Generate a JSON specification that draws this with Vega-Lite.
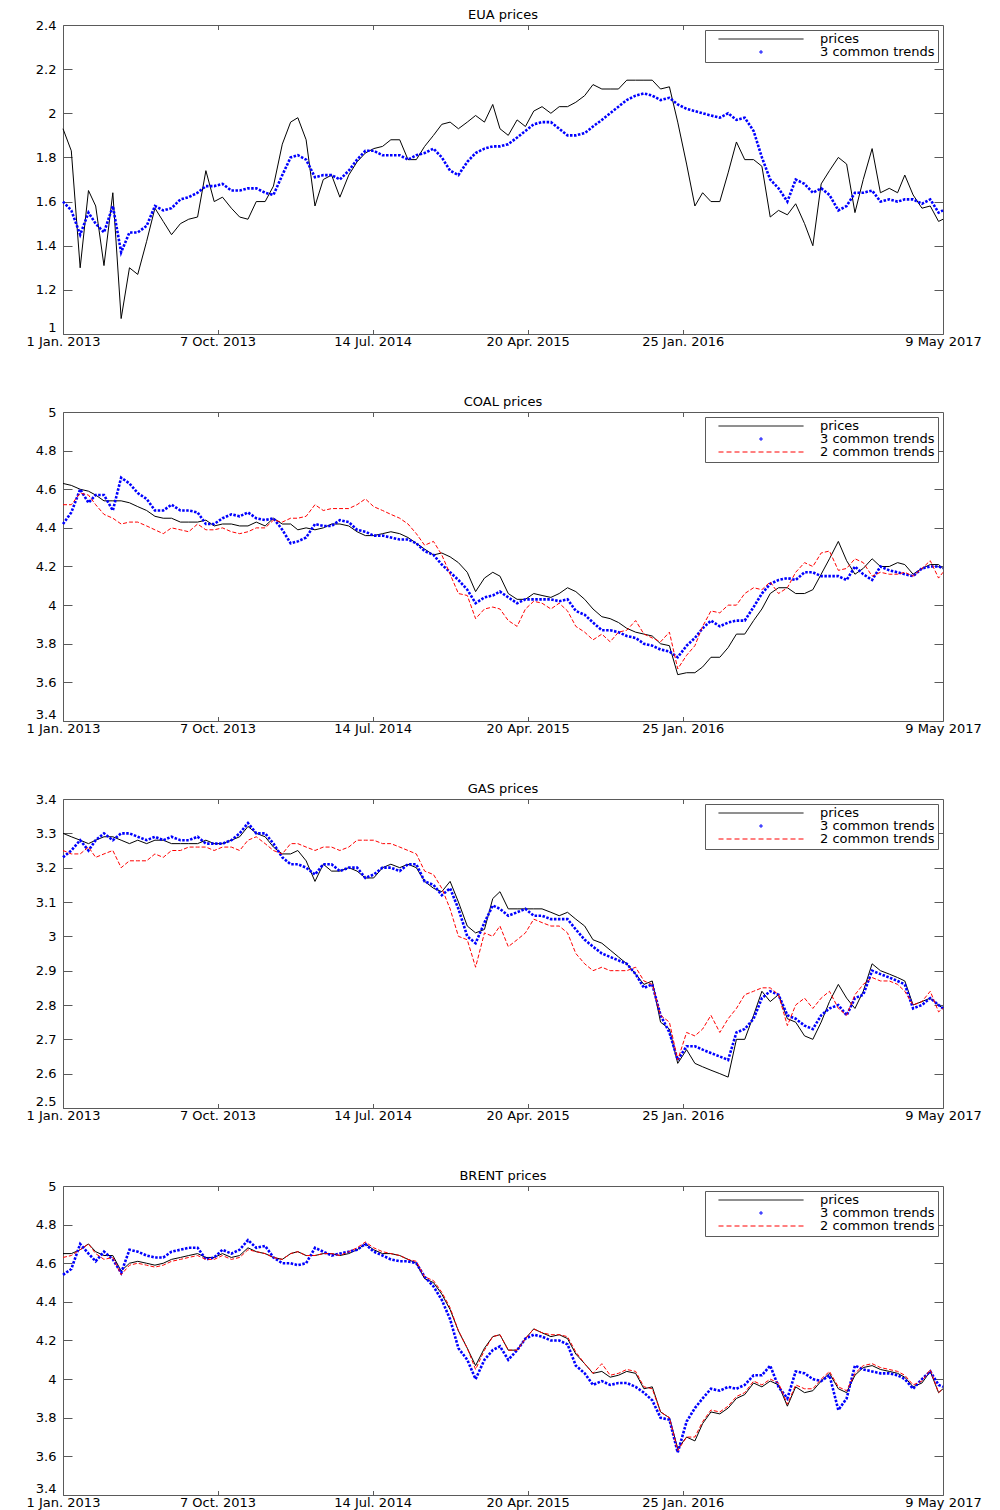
{
"$schema": "https://vega.github.io/schema/vega-lite/v6.json",
"background": "white",
"padding": {"left": 25, "top": 8, "right": 5, "bottom": 2},
"datasets": {"all": [
{"d":"2013-01-01","ep":1.93,"et":1.60,"cp":4.63,"ct":4.42,"cr":4.52,"gp":3.30,"gt":3.23,"gr":3.25,"bp":4.65,"bt":4.54,"br":4.63},
{"d":"2013-01-16","ep":1.83,"et":1.56,"cp":4.62,"ct":4.48,"cr":4.52,"gp":3.29,"gt":3.25,"gr":3.24,"bp":4.65,"bt":4.57,"br":4.64},
{"d":"2013-02-01","ep":1.30,"et":1.45,"cp":4.60,"ct":4.60,"cr":4.58,"gp":3.28,"gt":3.28,"gr":3.24,"bp":4.67,"bt":4.70,"br":4.67},
{"d":"2013-02-16","ep":1.65,"et":1.55,"cp":4.59,"ct":4.53,"cr":4.57,"gp":3.27,"gt":3.25,"gr":3.26,"bp":4.70,"bt":4.65,"br":4.70},
{"d":"2013-03-01","ep":1.58,"et":1.50,"cp":4.57,"ct":4.57,"cr":4.52,"gp":3.28,"gt":3.28,"gr":3.23,"bp":4.66,"bt":4.61,"br":4.65},
{"d":"2013-03-16","ep":1.31,"et":1.46,"cp":4.54,"ct":4.57,"cr":4.47,"gp":3.29,"gt":3.30,"gr":3.24,"bp":4.64,"bt":4.66,"br":4.62},
{"d":"2013-04-01","ep":1.64,"et":1.58,"cp":4.54,"ct":4.49,"cr":4.45,"gp":3.29,"gt":3.28,"gr":3.25,"bp":4.64,"bt":4.62,"br":4.63},
{"d":"2013-04-16","ep":1.07,"et":1.37,"cp":4.54,"ct":4.66,"cr":4.42,"gp":3.28,"gt":3.30,"gr":3.20,"bp":4.56,"bt":4.55,"br":4.54},
{"d":"2013-05-01","ep":1.30,"et":1.46,"cp":4.53,"ct":4.63,"cr":4.43,"gp":3.27,"gt":3.30,"gr":3.22,"bp":4.60,"bt":4.67,"br":4.59},
{"d":"2013-05-16","ep":1.27,"et":1.46,"cp":4.51,"ct":4.58,"cr":4.43,"gp":3.28,"gt":3.29,"gr":3.22,"bp":4.61,"bt":4.66,"br":4.60},
{"d":"2013-06-01","ep":1.42,"et":1.49,"cp":4.49,"ct":4.55,"cr":4.41,"gp":3.27,"gt":3.28,"gr":3.22,"bp":4.60,"bt":4.64,"br":4.59},
{"d":"2013-06-16","ep":1.57,"et":1.58,"cp":4.46,"ct":4.49,"cr":4.39,"gp":3.28,"gt":3.29,"gr":3.24,"bp":4.59,"bt":4.63,"br":4.58},
{"d":"2013-07-01","ep":1.51,"et":1.56,"cp":4.45,"ct":4.49,"cr":4.37,"gp":3.28,"gt":3.28,"gr":3.23,"bp":4.60,"bt":4.63,"br":4.59},
{"d":"2013-07-16","ep":1.45,"et":1.57,"cp":4.45,"ct":4.52,"cr":4.40,"gp":3.27,"gt":3.29,"gr":3.25,"bp":4.62,"bt":4.66,"br":4.61},
{"d":"2013-08-01","ep":1.50,"et":1.61,"cp":4.43,"ct":4.49,"cr":4.39,"gp":3.27,"gt":3.28,"gr":3.25,"bp":4.63,"bt":4.67,"br":4.62},
{"d":"2013-08-16","ep":1.52,"et":1.62,"cp":4.43,"ct":4.49,"cr":4.38,"gp":3.27,"gt":3.28,"gr":3.26,"bp":4.64,"bt":4.68,"br":4.63},
{"d":"2013-09-01","ep":1.53,"et":1.64,"cp":4.43,"ct":4.48,"cr":4.42,"gp":3.27,"gt":3.29,"gr":3.26,"bp":4.65,"bt":4.68,"br":4.64},
{"d":"2013-09-16","ep":1.74,"et":1.67,"cp":4.44,"ct":4.42,"cr":4.39,"gp":3.28,"gt":3.27,"gr":3.26,"bp":4.63,"bt":4.62,"br":4.62},
{"d":"2013-10-01","ep":1.60,"et":1.67,"cp":4.41,"ct":4.42,"cr":4.39,"gp":3.27,"gt":3.27,"gr":3.25,"bp":4.63,"bt":4.63,"br":4.62},
{"d":"2013-10-16","ep":1.62,"et":1.68,"cp":4.42,"ct":4.45,"cr":4.40,"gp":3.27,"gt":3.27,"gr":3.26,"bp":4.65,"bt":4.67,"br":4.64},
{"d":"2013-11-01","ep":1.57,"et":1.65,"cp":4.42,"ct":4.47,"cr":4.38,"gp":3.28,"gt":3.28,"gr":3.26,"bp":4.63,"bt":4.65,"br":4.62},
{"d":"2013-11-16","ep":1.53,"et":1.65,"cp":4.41,"ct":4.46,"cr":4.37,"gp":3.29,"gt":3.30,"gr":3.25,"bp":4.64,"bt":4.67,"br":4.63},
{"d":"2013-12-01","ep":1.52,"et":1.66,"cp":4.41,"ct":4.48,"cr":4.38,"gp":3.32,"gt":3.33,"gr":3.28,"bp":4.68,"bt":4.72,"br":4.67},
{"d":"2013-12-16","ep":1.60,"et":1.66,"cp":4.43,"ct":4.45,"cr":4.40,"gp":3.30,"gt":3.30,"gr":3.29,"bp":4.66,"bt":4.68,"br":4.66},
{"d":"2014-01-01","ep":1.60,"et":1.64,"cp":4.41,"ct":4.44,"cr":4.40,"gp":3.29,"gt":3.30,"gr":3.27,"bp":4.65,"bt":4.69,"br":4.65},
{"d":"2014-01-16","ep":1.67,"et":1.63,"cp":4.45,"ct":4.45,"cr":4.44,"gp":3.26,"gt":3.27,"gr":3.25,"bp":4.63,"bt":4.63,"br":4.63},
{"d":"2014-02-01","ep":1.86,"et":1.72,"cp":4.42,"ct":4.39,"cr":4.43,"gp":3.24,"gt":3.23,"gr":3.24,"bp":4.62,"bt":4.60,"br":4.62},
{"d":"2014-02-16","ep":1.96,"et":1.80,"cp":4.42,"ct":4.32,"cr":4.45,"gp":3.24,"gt":3.21,"gr":3.27,"bp":4.65,"bt":4.60,"br":4.65},
{"d":"2014-03-01","ep":1.98,"et":1.81,"cp":4.39,"ct":4.33,"cr":4.45,"gp":3.25,"gt":3.21,"gr":3.27,"bp":4.66,"bt":4.59,"br":4.66},
{"d":"2014-03-16","ep":1.88,"et":1.79,"cp":4.40,"ct":4.35,"cr":4.46,"gp":3.22,"gt":3.20,"gr":3.26,"bp":4.64,"bt":4.60,"br":4.64},
{"d":"2014-04-01","ep":1.58,"et":1.71,"cp":4.39,"ct":4.42,"cr":4.52,"gp":3.16,"gt":3.18,"gr":3.25,"bp":4.64,"bt":4.68,"br":4.64},
{"d":"2014-04-16","ep":1.70,"et":1.72,"cp":4.40,"ct":4.41,"cr":4.49,"gp":3.21,"gt":3.21,"gr":3.26,"bp":4.65,"bt":4.66,"br":4.65},
{"d":"2014-05-01","ep":1.72,"et":1.72,"cp":4.42,"ct":4.41,"cr":4.50,"gp":3.19,"gt":3.21,"gr":3.26,"bp":4.65,"bt":4.64,"br":4.65},
{"d":"2014-05-16","ep":1.62,"et":1.70,"cp":4.42,"ct":4.44,"cr":4.50,"gp":3.19,"gt":3.19,"gr":3.25,"bp":4.64,"bt":4.65,"br":4.64},
{"d":"2014-06-01","ep":1.72,"et":1.74,"cp":4.41,"ct":4.43,"cr":4.50,"gp":3.20,"gt":3.20,"gr":3.26,"bp":4.65,"bt":4.66,"br":4.66},
{"d":"2014-06-16","ep":1.78,"et":1.79,"cp":4.38,"ct":4.39,"cr":4.52,"gp":3.19,"gt":3.20,"gr":3.28,"bp":4.67,"bt":4.67,"br":4.68},
{"d":"2014-07-01","ep":1.82,"et":1.83,"cp":4.36,"ct":4.38,"cr":4.55,"gp":3.17,"gt":3.17,"gr":3.28,"bp":4.70,"bt":4.70,"br":4.71},
{"d":"2014-07-16","ep":1.84,"et":1.83,"cp":4.36,"ct":4.36,"cr":4.51,"gp":3.17,"gt":3.18,"gr":3.28,"bp":4.67,"bt":4.66,"br":4.68},
{"d":"2014-08-01","ep":1.85,"et":1.81,"cp":4.37,"ct":4.36,"cr":4.49,"gp":3.20,"gt":3.20,"gr":3.27,"bp":4.65,"bt":4.64,"br":4.66},
{"d":"2014-08-16","ep":1.88,"et":1.81,"cp":4.38,"ct":4.35,"cr":4.47,"gp":3.21,"gt":3.20,"gr":3.27,"bp":4.65,"bt":4.62,"br":4.65},
{"d":"2014-09-01","ep":1.88,"et":1.81,"cp":4.37,"ct":4.34,"cr":4.45,"gp":3.20,"gt":3.19,"gr":3.26,"bp":4.64,"bt":4.61,"br":4.64},
{"d":"2014-09-16","ep":1.79,"et":1.79,"cp":4.35,"ct":4.34,"cr":4.42,"gp":3.21,"gt":3.21,"gr":3.25,"bp":4.62,"bt":4.61,"br":4.62},
{"d":"2014-10-01","ep":1.79,"et":1.81,"cp":4.32,"ct":4.32,"cr":4.37,"gp":3.20,"gt":3.21,"gr":3.24,"bp":4.60,"bt":4.60,"br":4.61},
{"d":"2014-10-16","ep":1.85,"et":1.82,"cp":4.29,"ct":4.28,"cr":4.31,"gp":3.16,"gt":3.16,"gr":3.19,"bp":4.52,"bt":4.53,"br":4.53},
{"d":"2014-11-01","ep":1.90,"et":1.84,"cp":4.26,"ct":4.26,"cr":4.33,"gp":3.14,"gt":3.15,"gr":3.18,"bp":4.50,"bt":4.48,"br":4.51},
{"d":"2014-11-16","ep":1.95,"et":1.80,"cp":4.27,"ct":4.21,"cr":4.26,"gp":3.13,"gt":3.12,"gr":3.14,"bp":4.44,"bt":4.41,"br":4.45},
{"d":"2014-12-01","ep":1.96,"et":1.74,"cp":4.25,"ct":4.17,"cr":4.16,"gp":3.16,"gt":3.14,"gr":3.08,"bp":4.36,"bt":4.31,"br":4.37},
{"d":"2014-12-16","ep":1.93,"et":1.72,"cp":4.22,"ct":4.13,"cr":4.06,"gp":3.10,"gt":3.08,"gr":3.00,"bp":4.25,"bt":4.16,"br":4.25},
{"d":"2015-01-01","ep":1.96,"et":1.78,"cp":4.17,"ct":4.08,"cr":4.05,"gp":3.03,"gt":3.00,"gr":2.99,"bp":4.16,"bt":4.10,"br":4.16},
{"d":"2015-01-16","ep":1.99,"et":1.82,"cp":4.07,"ct":4.01,"cr":3.93,"gp":3.01,"gt":2.98,"gr":2.91,"bp":4.07,"bt":4.00,"br":4.05},
{"d":"2015-02-01","ep":1.96,"et":1.84,"cp":4.14,"ct":4.04,"cr":3.98,"gp":3.02,"gt":3.04,"gr":3.01,"bp":4.16,"bt":4.10,"br":4.15},
{"d":"2015-02-16","ep":2.04,"et":1.85,"cp":4.17,"ct":4.05,"cr":3.99,"gp":3.11,"gt":3.09,"gr":3.00,"bp":4.22,"bt":4.15,"br":4.22},
{"d":"2015-03-01","ep":1.93,"et":1.85,"cp":4.15,"ct":4.07,"cr":3.98,"gp":3.13,"gt":3.08,"gr":3.03,"bp":4.23,"bt":4.17,"br":4.23},
{"d":"2015-03-16","ep":1.90,"et":1.86,"cp":4.06,"ct":4.04,"cr":3.92,"gp":3.08,"gt":3.06,"gr":2.97,"bp":4.15,"bt":4.10,"br":4.15},
{"d":"2015-04-01","ep":1.97,"et":1.89,"cp":4.03,"ct":4.01,"cr":3.89,"gp":3.08,"gt":3.07,"gr":2.99,"bp":4.15,"bt":4.15,"br":4.15},
{"d":"2015-04-16","ep":1.94,"et":1.92,"cp":4.03,"ct":4.03,"cr":3.98,"gp":3.08,"gt":3.08,"gr":3.01,"bp":4.21,"bt":4.21,"br":4.21},
{"d":"2015-05-01","ep":2.01,"et":1.95,"cp":4.06,"ct":4.03,"cr":4.02,"gp":3.08,"gt":3.06,"gr":3.05,"bp":4.26,"bt":4.23,"br":4.26},
{"d":"2015-05-16","ep":2.03,"et":1.96,"cp":4.05,"ct":4.03,"cr":4.01,"gp":3.08,"gt":3.06,"gr":3.04,"bp":4.24,"bt":4.22,"br":4.24},
{"d":"2015-06-01","ep":2.00,"et":1.96,"cp":4.04,"ct":4.03,"cr":3.98,"gp":3.07,"gt":3.05,"gr":3.03,"bp":4.22,"bt":4.20,"br":4.23},
{"d":"2015-06-16","ep":2.03,"et":1.93,"cp":4.06,"ct":4.02,"cr":4.01,"gp":3.06,"gt":3.05,"gr":3.03,"bp":4.23,"bt":4.20,"br":4.23},
{"d":"2015-07-01","ep":2.03,"et":1.90,"cp":4.09,"ct":4.03,"cr":3.97,"gp":3.07,"gt":3.05,"gr":3.01,"bp":4.21,"bt":4.18,"br":4.22},
{"d":"2015-07-16","ep":2.05,"et":1.90,"cp":4.07,"ct":3.97,"cr":3.89,"gp":3.05,"gt":3.02,"gr":2.95,"bp":4.13,"bt":4.07,"br":4.14},
{"d":"2015-08-01","ep":2.08,"et":1.91,"cp":4.03,"ct":3.95,"cr":3.86,"gp":3.03,"gt":2.99,"gr":2.92,"bp":4.08,"bt":4.03,"br":4.08},
{"d":"2015-08-16","ep":2.13,"et":1.94,"cp":3.98,"ct":3.91,"cr":3.82,"gp":2.99,"gt":2.97,"gr":2.90,"bp":4.03,"bt":3.97,"br":4.03},
{"d":"2015-09-01","ep":2.11,"et":1.97,"cp":3.94,"ct":3.87,"cr":3.85,"gp":2.98,"gt":2.95,"gr":2.91,"bp":4.04,"bt":3.99,"br":4.08},
{"d":"2015-09-16","ep":2.11,"et":2.00,"cp":3.93,"ct":3.87,"cr":3.81,"gp":2.96,"gt":2.94,"gr":2.90,"bp":4.01,"bt":3.97,"br":4.02},
{"d":"2015-10-01","ep":2.11,"et":2.03,"cp":3.91,"ct":3.86,"cr":3.86,"gp":2.94,"gt":2.93,"gr":2.90,"bp":4.02,"bt":3.98,"br":4.03},
{"d":"2015-10-16","ep":2.15,"et":2.06,"cp":3.88,"ct":3.84,"cr":3.87,"gp":2.92,"gt":2.92,"gr":2.90,"bp":4.04,"bt":3.98,"br":4.05},
{"d":"2015-11-01","ep":2.15,"et":2.08,"cp":3.86,"ct":3.83,"cr":3.92,"gp":2.89,"gt":2.89,"gr":2.91,"bp":4.03,"bt":3.96,"br":4.04},
{"d":"2015-11-16","ep":2.15,"et":2.09,"cp":3.85,"ct":3.80,"cr":3.85,"gp":2.86,"gt":2.85,"gr":2.87,"bp":3.95,"bt":3.93,"br":3.96},
{"d":"2015-12-01","ep":2.15,"et":2.08,"cp":3.84,"ct":3.79,"cr":3.83,"gp":2.87,"gt":2.86,"gr":2.86,"bp":3.96,"bt":3.89,"br":3.95},
{"d":"2015-12-16","ep":2.11,"et":2.06,"cp":3.80,"ct":3.77,"cr":3.81,"gp":2.75,"gt":2.77,"gr":2.77,"bp":3.83,"bt":3.80,"br":3.83},
{"d":"2016-01-01","ep":2.12,"et":2.07,"cp":3.79,"ct":3.76,"cr":3.86,"gp":2.73,"gt":2.72,"gr":2.75,"bp":3.80,"bt":3.79,"br":3.80},
{"d":"2016-01-16","ep":1.96,"et":2.04,"cp":3.64,"ct":3.73,"cr":3.67,"gp":2.63,"gt":2.64,"gr":2.64,"bp":3.64,"bt":3.62,"br":3.63},
{"d":"2016-02-01","ep":1.77,"et":2.02,"cp":3.65,"ct":3.79,"cr":3.74,"gp":2.67,"gt":2.68,"gr":2.72,"bp":3.70,"bt":3.78,"br":3.70},
{"d":"2016-02-16","ep":1.58,"et":2.01,"cp":3.65,"ct":3.83,"cr":3.79,"gp":2.63,"gt":2.68,"gr":2.71,"bp":3.68,"bt":3.85,"br":3.70},
{"d":"2016-03-01","ep":1.64,"et":2.00,"cp":3.68,"ct":3.88,"cr":3.89,"gp":2.62,"gt":2.67,"gr":2.73,"bp":3.77,"bt":3.90,"br":3.78},
{"d":"2016-03-16","ep":1.60,"et":1.99,"cp":3.73,"ct":3.92,"cr":3.97,"gp":2.61,"gt":2.66,"gr":2.77,"bp":3.83,"bt":3.95,"br":3.84},
{"d":"2016-04-01","ep":1.60,"et":1.98,"cp":3.73,"ct":3.89,"cr":3.96,"gp":2.60,"gt":2.65,"gr":2.72,"bp":3.82,"bt":3.94,"br":3.83},
{"d":"2016-04-16","ep":1.73,"et":2.00,"cp":3.78,"ct":3.91,"cr":4.00,"gp":2.59,"gt":2.64,"gr":2.76,"bp":3.85,"bt":3.96,"br":3.86},
{"d":"2016-05-01","ep":1.87,"et":1.97,"cp":3.85,"ct":3.92,"cr":4.00,"gp":2.70,"gt":2.72,"gr":2.79,"bp":3.90,"bt":3.95,"br":3.91},
{"d":"2016-05-16","ep":1.79,"et":1.98,"cp":3.85,"ct":3.92,"cr":4.06,"gp":2.70,"gt":2.73,"gr":2.83,"bp":3.92,"bt":3.97,"br":3.93},
{"d":"2016-06-01","ep":1.79,"et":1.92,"cp":3.92,"ct":3.99,"cr":4.09,"gp":2.77,"gt":2.76,"gr":2.84,"bp":3.98,"bt":4.02,"br":3.99},
{"d":"2016-06-16","ep":1.76,"et":1.80,"cp":3.98,"ct":4.06,"cr":4.08,"gp":2.84,"gt":2.82,"gr":2.85,"bp":3.96,"bt":4.02,"br":3.97},
{"d":"2016-07-01","ep":1.53,"et":1.70,"cp":4.06,"ct":4.11,"cr":4.12,"gp":2.81,"gt":2.84,"gr":2.85,"bp":3.99,"bt":4.07,"br":4.00},
{"d":"2016-07-16","ep":1.56,"et":1.66,"cp":4.09,"ct":4.13,"cr":4.06,"gp":2.83,"gt":2.83,"gr":2.83,"bp":3.97,"bt":3.96,"br":3.98},
{"d":"2016-08-01","ep":1.54,"et":1.60,"cp":4.09,"ct":4.14,"cr":4.09,"gp":2.76,"gt":2.77,"gr":2.74,"bp":3.86,"bt":3.90,"br":3.87},
{"d":"2016-08-16","ep":1.59,"et":1.70,"cp":4.06,"ct":4.13,"cr":4.17,"gp":2.75,"gt":2.76,"gr":2.80,"bp":3.96,"bt":4.04,"br":3.97},
{"d":"2016-09-01","ep":1.50,"et":1.68,"cp":4.06,"ct":4.17,"cr":4.22,"gp":2.71,"gt":2.74,"gr":2.82,"bp":3.93,"bt":4.03,"br":3.95},
{"d":"2016-09-16","ep":1.40,"et":1.64,"cp":4.08,"ct":4.17,"cr":4.20,"gp":2.70,"gt":2.73,"gr":2.79,"bp":3.94,"bt":4.00,"br":3.95},
{"d":"2016-10-01","ep":1.68,"et":1.66,"cp":4.16,"ct":4.15,"cr":4.27,"gp":2.75,"gt":2.77,"gr":2.82,"bp":3.99,"bt":3.99,"br":4.00},
{"d":"2016-10-16","ep":1.74,"et":1.63,"cp":4.24,"ct":4.15,"cr":4.28,"gp":2.81,"gt":2.79,"gr":2.84,"bp":4.03,"bt":4.02,"br":4.04},
{"d":"2016-11-01","ep":1.80,"et":1.56,"cp":4.33,"ct":4.15,"cr":4.18,"gp":2.86,"gt":2.80,"gr":2.79,"bp":3.95,"bt":3.84,"br":3.96},
{"d":"2016-11-16","ep":1.77,"et":1.58,"cp":4.23,"ct":4.13,"cr":4.19,"gp":2.82,"gt":2.77,"gr":2.77,"bp":3.93,"bt":3.90,"br":3.94},
{"d":"2016-12-01","ep":1.55,"et":1.64,"cp":4.16,"ct":4.20,"cr":4.24,"gp":2.79,"gt":2.82,"gr":2.83,"bp":4.02,"bt":4.07,"br":4.03},
{"d":"2016-12-16","ep":1.70,"et":1.64,"cp":4.19,"ct":4.16,"cr":4.22,"gp":2.84,"gt":2.83,"gr":2.86,"bp":4.06,"bt":4.05,"br":4.07},
{"d":"2017-01-01","ep":1.84,"et":1.65,"cp":4.24,"ct":4.13,"cr":4.15,"gp":2.92,"gt":2.90,"gr":2.88,"bp":4.07,"bt":4.04,"br":4.08},
{"d":"2017-01-16","ep":1.64,"et":1.60,"cp":4.20,"ct":4.20,"cr":4.17,"gp":2.90,"gt":2.89,"gr":2.87,"bp":4.05,"bt":4.03,"br":4.06},
{"d":"2017-02-01","ep":1.66,"et":1.61,"cp":4.20,"ct":4.18,"cr":4.16,"gp":2.89,"gt":2.88,"gr":2.87,"bp":4.04,"bt":4.03,"br":4.05},
{"d":"2017-02-16","ep":1.64,"et":1.60,"cp":4.22,"ct":4.17,"cr":4.16,"gp":2.88,"gt":2.87,"gr":2.86,"bp":4.03,"bt":4.02,"br":4.04},
{"d":"2017-03-01","ep":1.72,"et":1.61,"cp":4.21,"ct":4.16,"cr":4.17,"gp":2.87,"gt":2.86,"gr":2.84,"bp":4.01,"bt":4.00,"br":4.02},
{"d":"2017-03-16","ep":1.63,"et":1.61,"cp":4.16,"ct":4.15,"cr":4.15,"gp":2.80,"gt":2.79,"gr":2.80,"bp":3.96,"bt":3.95,"br":3.97},
{"d":"2017-04-01","ep":1.57,"et":1.59,"cp":4.19,"ct":4.19,"cr":4.19,"gp":2.81,"gt":2.80,"gr":2.81,"bp":3.98,"bt":4.00,"br":3.99},
{"d":"2017-04-16","ep":1.58,"et":1.61,"cp":4.21,"ct":4.20,"cr":4.23,"gp":2.82,"gt":2.82,"gr":2.84,"bp":4.04,"bt":4.04,"br":4.05},
{"d":"2017-05-01","ep":1.51,"et":1.55,"cp":4.21,"ct":4.20,"cr":4.14,"gp":2.80,"gt":2.80,"gr":2.78,"bp":3.93,"bt":3.97,"br":3.93},
{"d":"2017-05-09","ep":1.52,"et":1.56,"cp":4.19,"ct":4.19,"cr":4.17,"gp":2.79,"gt":2.79,"gr":2.79,"bp":3.95,"bt":3.96,"br":3.95}
]},
"data": {"name": "all", "format": {"parse": {"d": "utc:'%Y-%m-%d'"}}},
"spacing": 46,
"resolve": {"scale": {"color": "independent", "x": "independent", "y": "independent"}},
"vconcat": [
{
 "width": 880, "height": 309, "title": "EUA prices",
 "layer": [
  {"mark": {"type": "line", "strokeWidth": 1},
   "encoding": {
    "x": {"field": "d", "type": "temporal", "scale": {"type": "utc", "nice": false, "domain": [{"year": 2013, "month": 1, "date": 1, "utc": true}, {"year": 2017, "month": 5, "date": 9, "utc": true}]},
          "axis": {"orient": "bottom", "title": null, "domain": false, "tickSize": -4.5, "labelPadding": 5.5, "labelFlush": false, "labelOverlap": false,
                   "values": [{"year": 2013, "month": 1, "date": 1, "utc": true}, {"year": 2013, "month": 10, "date": 7, "utc": true}, {"year": 2014, "month": 7, "date": 14, "utc": true}, {"year": 2015, "month": 4, "date": 20, "utc": true}, {"year": 2016, "month": 1, "date": 25, "utc": true}, {"year": 2017, "month": 5, "date": 9, "utc": true}],
                   "labelExpr": "utcFormat(datum.value, utcmonth(datum.value) == 4 ? '%-d %b %Y' : '%-d %b. %Y')"}},
    "y": {"field": "ep", "type": "quantitative", "scale": {"domain": [1, 2.4], "nice": false, "zero": false},
          "axis": {"orient": "left", "title": null, "domain": false, "tickSize": -9, "labelPadding": 16, "format": "~g", "values": [1, 1.2, 1.4, 1.6, 1.8, 2, 2.2, 2.4],
                   "labelBaseline": {"condition": {"test": "datum.value < 1.1", "value": "bottom"}, "value": "middle"}}},
    "color": {"datum": "prices", "scale": {"domain": ["prices", "3 common trends"], "range": ["#000000", "#0000ff"]},
              "legend": {"title": null, "encode": {"symbols": {"update": {
                 "size": {"value": 7225},
                 "strokeWidth": {"value": 1},
                 "shape": {"signal": "datum.value === '3 common trends' ? 'M-0.045,0H0.045M0,-0.045V0.045' : 'stroke'"},
                 "stroke": {"signal": "datum.value === '2 common trends' ? '#ff0000' : datum.value === '3 common trends' ? '#0000ff' : '#000000'"},
                 "strokeDash": {"signal": "datum.value === '2 common trends' ? [5, 3] : [1, 0]"}}}}}}
   }},
  {"mark": {"type": "line", "strokeWidth": 2.6, "strokeDash": [2.5, 1.5]},
   "encoding": {
    "x": {"field": "d", "type": "temporal", "scale": {"type": "utc", "nice": false, "domain": [{"year": 2013, "month": 1, "date": 1, "utc": true}, {"year": 2017, "month": 5, "date": 9, "utc": true}]}, "axis": null},
    "y": {"field": "et", "type": "quantitative", "scale": {"domain": [1, 2.4], "nice": false, "zero": false}, "axis": null},
    "color": {"datum": "3 common trends"}
   }},
  {"mark": {"type": "line", "opacity": 0},
   "encoding": {
    "x": {"field": "d", "type": "temporal", "scale": {"type": "utc", "nice": false, "domain": [{"year": 2013, "month": 1, "date": 1, "utc": true}, {"year": 2017, "month": 5, "date": 9, "utc": true}]},
          "axis": {"orient": "top", "title": null, "domain": false, "labels": false, "tickSize": -4.5, "values": [{"year": 2013, "month": 10, "date": 7, "utc": true}, {"year": 2014, "month": 7, "date": 14, "utc": true}, {"year": 2015, "month": 4, "date": 20, "utc": true}, {"year": 2016, "month": 1, "date": 25, "utc": true}]}},
    "y": {"field": "ep", "type": "quantitative", "scale": {"domain": [1, 2.4], "nice": false, "zero": false},
          "axis": {"orient": "right", "title": null, "domain": false, "labels": false, "tickSize": -9, "values": [1.2, 1.4, 1.6, 1.8, 2, 2.2]}}
   }}
 ],
 "resolve": {"axis": {"x": "independent", "y": "independent"}}
},
{
 "width": 880, "height": 309, "title": "COAL prices",
 "layer": [
  {"mark": {"type": "line", "strokeWidth": 1},
   "encoding": {
    "x": {"field": "d", "type": "temporal", "scale": {"type": "utc", "nice": false, "domain": [{"year": 2013, "month": 1, "date": 1, "utc": true}, {"year": 2017, "month": 5, "date": 9, "utc": true}]},
          "axis": {"orient": "bottom", "title": null, "domain": false, "tickSize": -4.5, "labelPadding": 5.5, "labelFlush": false, "labelOverlap": false,
                   "values": [{"year": 2013, "month": 1, "date": 1, "utc": true}, {"year": 2013, "month": 10, "date": 7, "utc": true}, {"year": 2014, "month": 7, "date": 14, "utc": true}, {"year": 2015, "month": 4, "date": 20, "utc": true}, {"year": 2016, "month": 1, "date": 25, "utc": true}, {"year": 2017, "month": 5, "date": 9, "utc": true}],
                   "labelExpr": "utcFormat(datum.value, utcmonth(datum.value) == 4 ? '%-d %b %Y' : '%-d %b. %Y')"}},
    "y": {"field": "cp", "type": "quantitative", "scale": {"domain": [3.4, 5], "nice": false, "zero": false},
          "axis": {"orient": "left", "title": null, "domain": false, "tickSize": -9, "labelPadding": 16, "format": "~g", "values": [3.4, 3.6, 3.8, 4, 4.2, 4.4, 4.6, 4.8, 5],
                   "labelBaseline": {"condition": {"test": "datum.value < 3.5", "value": "bottom"}, "value": "middle"}}},
    "color": {"datum": "prices", "scale": {"domain": ["prices", "3 common trends", "2 common trends"], "range": ["#000000", "#0000ff", "#ff0000"]},
              "legend": {"title": null, "encode": {"symbols": {"update": {
                 "size": {"value": 7225},
                 "strokeWidth": {"value": 1},
                 "shape": {"signal": "datum.value === '3 common trends' ? 'M-0.045,0H0.045M0,-0.045V0.045' : 'stroke'"},
                 "stroke": {"signal": "datum.value === '2 common trends' ? '#ff0000' : datum.value === '3 common trends' ? '#0000ff' : '#000000'"},
                 "strokeDash": {"signal": "datum.value === '2 common trends' ? [5, 3] : [1, 0]"}}}}}}
   }},
  {"mark": {"type": "line", "strokeWidth": 2.6, "strokeDash": [2.5, 1.5]},
   "encoding": {
    "x": {"field": "d", "type": "temporal", "scale": {"type": "utc", "nice": false, "domain": [{"year": 2013, "month": 1, "date": 1, "utc": true}, {"year": 2017, "month": 5, "date": 9, "utc": true}]}, "axis": null},
    "y": {"field": "ct", "type": "quantitative", "scale": {"domain": [3.4, 5], "nice": false, "zero": false}, "axis": null},
    "color": {"datum": "3 common trends"}
   }},
  {"mark": {"type": "line", "strokeWidth": 1, "strokeDash": [4, 2]},
   "encoding": {
    "x": {"field": "d", "type": "temporal", "scale": {"type": "utc", "nice": false, "domain": [{"year": 2013, "month": 1, "date": 1, "utc": true}, {"year": 2017, "month": 5, "date": 9, "utc": true}]}, "axis": null},
    "y": {"field": "cr", "type": "quantitative", "scale": {"domain": [3.4, 5], "nice": false, "zero": false}, "axis": null},
    "color": {"datum": "2 common trends"}
   }},
  {"mark": {"type": "line", "opacity": 0},
   "encoding": {
    "x": {"field": "d", "type": "temporal", "scale": {"type": "utc", "nice": false, "domain": [{"year": 2013, "month": 1, "date": 1, "utc": true}, {"year": 2017, "month": 5, "date": 9, "utc": true}]},
          "axis": {"orient": "top", "title": null, "domain": false, "labels": false, "tickSize": -4.5, "values": [{"year": 2013, "month": 10, "date": 7, "utc": true}, {"year": 2014, "month": 7, "date": 14, "utc": true}, {"year": 2015, "month": 4, "date": 20, "utc": true}, {"year": 2016, "month": 1, "date": 25, "utc": true}]}},
    "y": {"field": "cp", "type": "quantitative", "scale": {"domain": [3.4, 5], "nice": false, "zero": false},
          "axis": {"orient": "right", "title": null, "domain": false, "labels": false, "tickSize": -9, "values": [3.6, 3.8, 4, 4.2, 4.4, 4.6, 4.8]}}
   }}
 ],
 "resolve": {"axis": {"x": "independent", "y": "independent"}}
},
{
 "width": 880, "height": 309, "title": "GAS prices",
 "layer": [
  {"mark": {"type": "line", "strokeWidth": 1},
   "encoding": {
    "x": {"field": "d", "type": "temporal", "scale": {"type": "utc", "nice": false, "domain": [{"year": 2013, "month": 1, "date": 1, "utc": true}, {"year": 2017, "month": 5, "date": 9, "utc": true}]},
          "axis": {"orient": "bottom", "title": null, "domain": false, "tickSize": -4.5, "labelPadding": 5.5, "labelFlush": false, "labelOverlap": false,
                   "values": [{"year": 2013, "month": 1, "date": 1, "utc": true}, {"year": 2013, "month": 10, "date": 7, "utc": true}, {"year": 2014, "month": 7, "date": 14, "utc": true}, {"year": 2015, "month": 4, "date": 20, "utc": true}, {"year": 2016, "month": 1, "date": 25, "utc": true}, {"year": 2017, "month": 5, "date": 9, "utc": true}],
                   "labelExpr": "utcFormat(datum.value, utcmonth(datum.value) == 4 ? '%-d %b %Y' : '%-d %b. %Y')"}},
    "y": {"field": "gp", "type": "quantitative", "scale": {"domain": [2.5, 3.4], "nice": false, "zero": false},
          "axis": {"orient": "left", "title": null, "domain": false, "tickSize": -9, "labelPadding": 16, "format": "~g", "values": [2.5, 2.6, 2.7, 2.8, 2.9, 3, 3.1, 3.2, 3.3, 3.4],
                   "labelBaseline": {"condition": {"test": "datum.value < 2.55", "value": "bottom"}, "value": "middle"}}},
    "color": {"datum": "prices", "scale": {"domain": ["prices", "3 common trends", "2 common trends"], "range": ["#000000", "#0000ff", "#ff0000"]},
              "legend": {"title": null, "encode": {"symbols": {"update": {
                 "size": {"value": 7225},
                 "strokeWidth": {"value": 1},
                 "shape": {"signal": "datum.value === '3 common trends' ? 'M-0.045,0H0.045M0,-0.045V0.045' : 'stroke'"},
                 "stroke": {"signal": "datum.value === '2 common trends' ? '#ff0000' : datum.value === '3 common trends' ? '#0000ff' : '#000000'"},
                 "strokeDash": {"signal": "datum.value === '2 common trends' ? [5, 3] : [1, 0]"}}}}}}
   }},
  {"mark": {"type": "line", "strokeWidth": 2.6, "strokeDash": [2.5, 1.5]},
   "encoding": {
    "x": {"field": "d", "type": "temporal", "scale": {"type": "utc", "nice": false, "domain": [{"year": 2013, "month": 1, "date": 1, "utc": true}, {"year": 2017, "month": 5, "date": 9, "utc": true}]}, "axis": null},
    "y": {"field": "gt", "type": "quantitative", "scale": {"domain": [2.5, 3.4], "nice": false, "zero": false}, "axis": null},
    "color": {"datum": "3 common trends"}
   }},
  {"mark": {"type": "line", "strokeWidth": 1, "strokeDash": [4, 2]},
   "encoding": {
    "x": {"field": "d", "type": "temporal", "scale": {"type": "utc", "nice": false, "domain": [{"year": 2013, "month": 1, "date": 1, "utc": true}, {"year": 2017, "month": 5, "date": 9, "utc": true}]}, "axis": null},
    "y": {"field": "gr", "type": "quantitative", "scale": {"domain": [2.5, 3.4], "nice": false, "zero": false}, "axis": null},
    "color": {"datum": "2 common trends"}
   }},
  {"mark": {"type": "line", "opacity": 0},
   "encoding": {
    "x": {"field": "d", "type": "temporal", "scale": {"type": "utc", "nice": false, "domain": [{"year": 2013, "month": 1, "date": 1, "utc": true}, {"year": 2017, "month": 5, "date": 9, "utc": true}]},
          "axis": {"orient": "top", "title": null, "domain": false, "labels": false, "tickSize": -4.5, "values": [{"year": 2013, "month": 10, "date": 7, "utc": true}, {"year": 2014, "month": 7, "date": 14, "utc": true}, {"year": 2015, "month": 4, "date": 20, "utc": true}, {"year": 2016, "month": 1, "date": 25, "utc": true}]}},
    "y": {"field": "gp", "type": "quantitative", "scale": {"domain": [2.5, 3.4], "nice": false, "zero": false},
          "axis": {"orient": "right", "title": null, "domain": false, "labels": false, "tickSize": -9, "values": [2.6, 2.7, 2.8, 2.9, 3, 3.1, 3.2, 3.3]}}
   }}
 ],
 "resolve": {"axis": {"x": "independent", "y": "independent"}}
},
{
 "width": 880, "height": 309, "title": "BRENT prices",
 "layer": [
  {"mark": {"type": "line", "strokeWidth": 1},
   "encoding": {
    "x": {"field": "d", "type": "temporal", "scale": {"type": "utc", "nice": false, "domain": [{"year": 2013, "month": 1, "date": 1, "utc": true}, {"year": 2017, "month": 5, "date": 9, "utc": true}]},
          "axis": {"orient": "bottom", "title": null, "domain": false, "tickSize": -4.5, "labelPadding": 5.5, "labelFlush": false, "labelOverlap": false,
                   "values": [{"year": 2013, "month": 1, "date": 1, "utc": true}, {"year": 2013, "month": 10, "date": 7, "utc": true}, {"year": 2014, "month": 7, "date": 14, "utc": true}, {"year": 2015, "month": 4, "date": 20, "utc": true}, {"year": 2016, "month": 1, "date": 25, "utc": true}, {"year": 2017, "month": 5, "date": 9, "utc": true}],
                   "labelExpr": "utcFormat(datum.value, utcmonth(datum.value) == 4 ? '%-d %b %Y' : '%-d %b. %Y')"}},
    "y": {"field": "bp", "type": "quantitative", "scale": {"domain": [3.4, 5], "nice": false, "zero": false},
          "axis": {"orient": "left", "title": null, "domain": false, "tickSize": -9, "labelPadding": 16, "format": "~g", "values": [3.4, 3.6, 3.8, 4, 4.2, 4.4, 4.6, 4.8, 5],
                   "labelBaseline": {"condition": {"test": "datum.value < 3.5", "value": "bottom"}, "value": "middle"}}},
    "color": {"datum": "prices", "scale": {"domain": ["prices", "3 common trends", "2 common trends"], "range": ["#000000", "#0000ff", "#ff0000"]},
              "legend": {"title": null, "encode": {"symbols": {"update": {
                 "size": {"value": 7225},
                 "strokeWidth": {"value": 1},
                 "shape": {"signal": "datum.value === '3 common trends' ? 'M-0.045,0H0.045M0,-0.045V0.045' : 'stroke'"},
                 "stroke": {"signal": "datum.value === '2 common trends' ? '#ff0000' : datum.value === '3 common trends' ? '#0000ff' : '#000000'"},
                 "strokeDash": {"signal": "datum.value === '2 common trends' ? [5, 3] : [1, 0]"}}}}}}
   }},
  {"mark": {"type": "line", "strokeWidth": 2.6, "strokeDash": [2.5, 1.5]},
   "encoding": {
    "x": {"field": "d", "type": "temporal", "scale": {"type": "utc", "nice": false, "domain": [{"year": 2013, "month": 1, "date": 1, "utc": true}, {"year": 2017, "month": 5, "date": 9, "utc": true}]}, "axis": null},
    "y": {"field": "bt", "type": "quantitative", "scale": {"domain": [3.4, 5], "nice": false, "zero": false}, "axis": null},
    "color": {"datum": "3 common trends"}
   }},
  {"mark": {"type": "line", "strokeWidth": 1, "strokeDash": [4, 2]},
   "encoding": {
    "x": {"field": "d", "type": "temporal", "scale": {"type": "utc", "nice": false, "domain": [{"year": 2013, "month": 1, "date": 1, "utc": true}, {"year": 2017, "month": 5, "date": 9, "utc": true}]}, "axis": null},
    "y": {"field": "br", "type": "quantitative", "scale": {"domain": [3.4, 5], "nice": false, "zero": false}, "axis": null},
    "color": {"datum": "2 common trends"}
   }},
  {"mark": {"type": "line", "opacity": 0},
   "encoding": {
    "x": {"field": "d", "type": "temporal", "scale": {"type": "utc", "nice": false, "domain": [{"year": 2013, "month": 1, "date": 1, "utc": true}, {"year": 2017, "month": 5, "date": 9, "utc": true}]},
          "axis": {"orient": "top", "title": null, "domain": false, "labels": false, "tickSize": -4.5, "values": [{"year": 2013, "month": 10, "date": 7, "utc": true}, {"year": 2014, "month": 7, "date": 14, "utc": true}, {"year": 2015, "month": 4, "date": 20, "utc": true}, {"year": 2016, "month": 1, "date": 25, "utc": true}]}},
    "y": {"field": "bp", "type": "quantitative", "scale": {"domain": [3.4, 5], "nice": false, "zero": false},
          "axis": {"orient": "right", "title": null, "domain": false, "labels": false, "tickSize": -9, "values": [3.6, 3.8, 4, 4.2, 4.4, 4.6, 4.8]}}
   }}
 ],
 "resolve": {"axis": {"x": "independent", "y": "independent"}}
}
],
"config": {
 "font": "DejaVu Sans",
 "view": {"stroke": "#5a5a5a", "strokeWidth": 1},
 "axis": {"grid": false, "tickColor": "#5a5a5a", "labelFontSize": 13, "labelColor": "#000000", "labelFont": "DejaVu Sans"},
 "title": {"fontSize": 13, "fontWeight": "normal", "offset": -3, "frame": "group", "color": "#000000", "font": "DejaVu Sans"},
 "legend": {"orient": "top-right", "offset": 5, "strokeColor": "#5a5a5a", "fillColor": "#ffffff", "padding": 3, "labelFontSize": 13, "labelFont": "DejaVu Sans", "labelColor": "#000000", "symbolType": "stroke", "symbolOffset": 10, "labelOffset": 16, "rowPadding": 0, "clipHeight": 12, "symbolStrokeWidth": 1}
}
}
